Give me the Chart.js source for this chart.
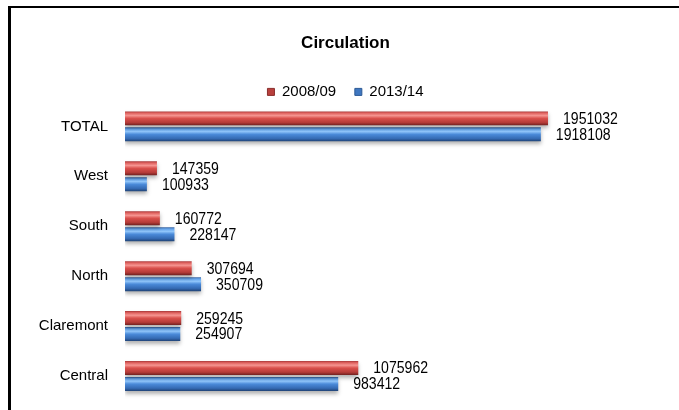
<!DOCTYPE html>
<html>
<head>
<meta charset="utf-8">
<script src="https://cdn.jsdelivr.net/npm/chart.js@4.4.1/dist/chart.umd.min.js"></script>
<style>
  html, body { margin:0; padding:0; background:#fff; }
  #wrap { position:relative; width:679px; height:410px; overflow:hidden; }
  #frame { position:absolute; left:8px; top:6px; width:700px; height:420px; border-left:3px solid #000; border-top:2px solid #000; box-sizing:border-box; pointer-events:none; }
  canvas { position:absolute; left:0; top:0; }
</style>
</head>
<body>
<div id="wrap">
  <canvas id="chart" width="679" height="410"></canvas>
  <div id="frame"></div>
</div>
<script>
// --- data ---
const branches = ['TOTAL', 'West', 'South', 'North', 'Claremont', 'Central'];
const circ0809 = [1951032, 147359, 160772, 307694, 259245, 1075962];
const circ1314 = [1918108, 100933, 228147, 350709, 254907, 983412];
const seriesNames = ['2008/09', '2013/14'];

const FONT = "'Liberation Sans', Arial, sans-serif";
const CAT_PCT = 0.64, BAR_PCT = 0.875;

// bevel look: vertical gradient per bar, computed from the category scale
const RED_STOPS  = [[0,'#a8393a'],[0.12,'#e0625f'],[0.3,'#f59490'],[0.5,'#d9504c'],[0.8,'#b53b38'],[1,'#6f201f']];
const BLUE_STOPS = [[0,'#345f9c'],[0.12,'#64a3ea'],[0.3,'#90c6fb'],[0.5,'#4a8ad9'],[0.8,'#356bb4'],[1,'#1f4275']];

function bevel(stops, dsIndex){
  return (ctx) => {
    const chart = ctx.chart;
    const ys = chart.scales.y;
    if(!ys || ctx.dataIndex == null) return stops[3][1];
    const catW = ys.height / branches.length;
    const slot = catW * CAT_PCT / 2;
    const th = slot * BAR_PCT;
    const c = ys.getPixelForValue(ctx.dataIndex) + (dsIndex === 0 ? -slot/2 : slot/2);
    const g = chart.ctx.createLinearGradient(0, c - th/2, 0, c + th/2);
    stops.forEach(([o,col]) => g.addColorStop(o, col));
    return g;
  };
}

// value labels to the right of each bar (narrowed a bit, like the original)
const valueLabels = {
  id: 'valueLabels',
  afterDatasetsDraw(chart){
    const {ctx} = chart;
    ctx.save();
    ctx.font = "16px " + FONT;
    ctx.fillStyle = '#000';
    ctx.textBaseline = 'middle';
    chart.data.datasets.forEach((ds, i) => {
      chart.getDatasetMeta(i).data.forEach((bar, j) => {
        ctx.save();
        ctx.translate(bar.x + 15, bar.y + 1);
        ctx.scale(0.88, 1);
        ctx.fillText(String(ds.data[j]), 0, 0);
        ctx.restore();
      });
    });
    ctx.restore();
  }
};

// soft drop shadow under the bars
const barShadow = {
  id: 'barShadow',
  beforeDatasetsDraw(chart){
    const c = chart.ctx;
    c.save();
    c.shadowColor = 'rgba(0,0,0,0.3)';
    c.shadowBlur = 4;
    c.shadowOffsetY = 3;
  },
  afterDatasetsDraw(chart){ chart.ctx.restore(); }
};

// legend box reserves 10px extra below itself; push the legend down into that space
const legendNudge = {
  id: 'legendNudge',
  afterLayout(chart){
    if(chart.legend){ chart.legend.top += 8; chart.legend.bottom += 8; }
  }
};

new Chart(document.getElementById('chart'), {
  type: 'bar',
  data: {
    labels: branches,
    datasets: [
      { label: seriesNames[0], data: circ0809, backgroundColor: bevel(RED_STOPS, 0), borderWidth: 0 },
      { label: seriesNames[1], data: circ1314, backgroundColor: bevel(BLUE_STOPS, 1), borderWidth: 0 }
    ]
  },
  options: {
    indexAxis: 'y',
    responsive: false,
    animation: false,
    categoryPercentage: CAT_PCT,
    barPercentage: BAR_PCT,
    layout: { padding: { left: 24, right: 12, top: 27, bottom: 9 } },
    plugins: {
      tooltip: { enabled: false },
      title: {
        display: true, text: 'Circulation', color: '#000',
        font: { family: FONT, size: 17, weight: 'bold' },
        padding: { top: 6, bottom: 21 }
      },
      legend: {
        display: true, position: 'top',
        labels: {
          color: '#000', boxWidth: 7, boxHeight: 7, padding: 2,
          font: { family: FONT, size: 15 },
          // trailing spaces keep the gap between the two legend entries
          generateLabels: (chart) => seriesNames.map((n, i) => ({
            text: i === 0 ? n + '    ' : n,
            fillStyle: i === 0 ? '#b8403d' : '#3f77c0',
            strokeStyle: i === 0 ? '#8a2e2c' : '#2c5a96', lineWidth: 1,
            datasetIndex: i
          }))
        }
      }
    },
    scales: {
      x: { display: false, min: 0, max: 2500000 },
      y: {
        grid: { display: false, drawTicks: false }, border: { display: false },
        ticks: { color: '#000', padding: 17, font: { family: FONT, size: 15 } },
        afterFit: (s) => { s.width = 101; s.paddingTop = 0; s.paddingBottom = 0; }
      }
    }
  },
  plugins: [barShadow, valueLabels, legendNudge]
});
</script>
</body>
</html>
